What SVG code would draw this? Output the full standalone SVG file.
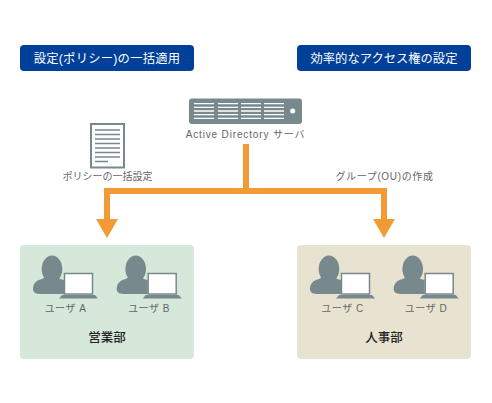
<svg xmlns="http://www.w3.org/2000/svg" width="492" height="403" viewBox="0 0 492 403">
<style>
text{font-family:"Liberation Sans","Noto Sans CJK JP",sans-serif}
.badge{fill:#004098}
.bt{font-size:12.300px;fill:#fff;text-anchor:middle}
.lb{font-size:10px;fill:#666;text-anchor:middle}
.ls{letter-spacing:.5px}
.dept{font-size:12.500px;fill:#222;text-anchor:middle;font-weight:500}
.g{fill:#78898e}
.w{fill:#fff}
</style>
<defs>
<g id="user">
<path class="g" d="M33 289c0-6 4-9 9-10l5-3h10l3 3 4 1v14H42c-6 0-9-1-9-5z"/>
<ellipse class="g" cx="52" cy="269" rx="10.300" ry="13.500"/>
<rect x="64.500" y="273.500" width="28" height="20.500" fill="#fff" stroke="#78898e" stroke-width="1.500"/>
<path class="g" d="M62 295h33l3 3.500H59z"/>
</g>
<g id="bars" stroke="#fff" stroke-width="1.300" fill="none">
<path d="M0 103.700h20M0 107.300h20M0 111h20M0 114.700h20M0 118.300h20"/>
</g>
</defs>
<rect width="492" height="403" fill="#fff"/>
<g id="badge-left"><rect class="badge" x="20" y="45" width="174" height="26" rx="4"/><text class="bt" x="107" y="62.500" letter-spacing=".25">設定(ポリシー)の一括適用</text></g>
<g id="badge-right"><rect class="badge" x="297" y="45" width="174" height="26" rx="4"/><text class="bt" x="384" y="62.500">効率的なアクセス権の設定</text></g>
<g id="dept-sales"><rect x="20" y="245" width="174" height="114" rx="4" fill="#d5e8d9"/><text class="dept" x="107" y="341.500">営業部</text></g>
<g id="dept-hr"><rect x="297" y="245" width="174" height="114" rx="4" fill="#e8e3d0"/><text class="dept" x="384" y="341.500">人事部</text></g>
<g id="connectors" fill="#f39a36">
<path d="M243 144h6v44h138v31h8l-11 19-11-19h8v-25H110v25h8l-11 19-11-19h8v-31h139z"/>
</g>
<g id="server">
<rect class="g" x="189" y="98.500" width="113" height="25.500" rx="3"/>
<use href="#bars" x="194"/><use href="#bars" x="218"/><use href="#bars" x="241"/><use href="#bars" x="264"/>
<circle class="w" cx="292.700" cy="111" r="2.500"/>
<text class="lb" x="245.500" y="137.500" letter-spacing=".85">Active Directory サーバ</text>
</g>
<g id="document">
<rect x="91" y="124" width="33" height="43.500" fill="#fff" stroke="#78898e" stroke-width="2"/>
<path d="M95 130h25M95 134.500h25M95 139h25M95 143.500h25M95 148h25M95 152.500h25M95 157h25M95 161.500h13" stroke="#78898e" stroke-width="1.300"/>
<text class="lb" x="107.500" y="180">ポリシーの一括設定</text>
</g>
<g id="label-ou"><text class="lb" x="384.500" y="180" letter-spacing=".65">グループ(OU)の作成</text></g>
<g id="user-a"><use href="#user"/><text class="lb ls" x="65.500" y="312">ユーザ A</text></g>
<g id="user-b"><use href="#user" x="83.700"/><text class="lb ls" x="149" y="312">ユーザ B</text></g>
<g id="user-c"><use href="#user" x="277"/><text class="lb ls" x="342.500" y="312">ユーザ C</text></g>
<g id="user-d"><use href="#user" x="360.700"/><text class="lb ls" x="426" y="312">ユーザ D</text></g>
</svg>
